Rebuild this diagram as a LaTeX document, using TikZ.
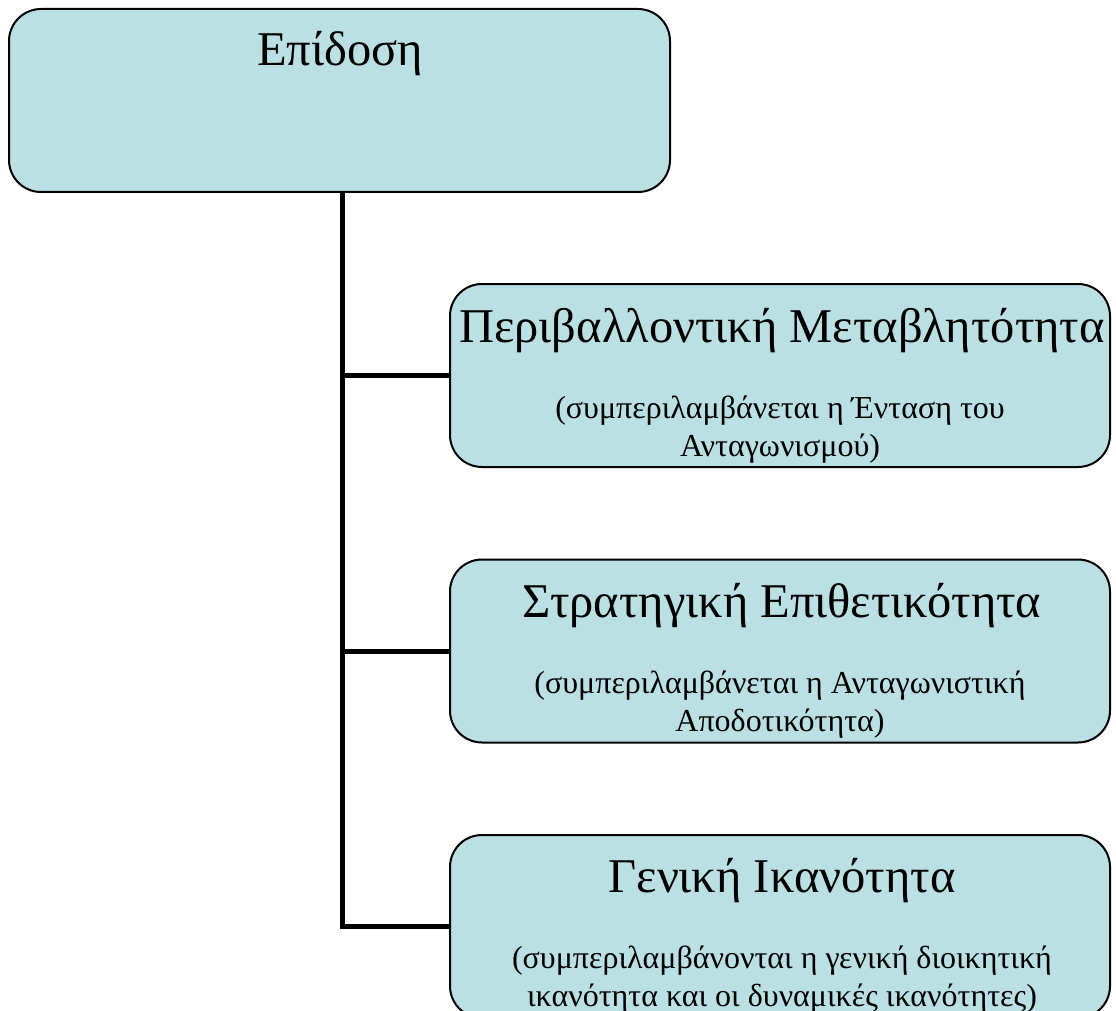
\documentclass[tikz,border=0pt]{standalone}
\usepackage{fontspec}
\setmainfont{Liberation Serif}
\definecolor{boxfill}{RGB}{187,224,227}
\begin{document}
\begin{tikzpicture}[x=1pt,y=-1pt,
  box/.style={draw=black, line width=2pt, fill=boxfill, rounded corners=32pt, minimum width=660pt, minimum height=183pt, inner sep=0pt},
  ttl/.style={anchor=base, inner sep=0pt, font=\fontsize{48.5}{58}\selectfont},
  sub/.style={anchor=base, inner sep=0pt, font=\fontsize{32}{39}\selectfont},
  conn/.style={draw=black, line width=5pt}]
\useasboundingbox (0,0) rectangle (1116,1011);
\clip (0,0) rectangle (1116,1011);
\node[box, minimum width=661pt] (top) at (339.5,100.5) {};
\node[box] (b2) at (780,375.5) {};
\node[box] (b3) at (780,651) {};
\node[box] (b4) at (780,926.5) {};
\coordinate (j) at (342,926.5);
\draw[conn] (top.south -| j) |- (b4.west);
\draw[conn] (b2.west -| j) -- (b2.west);
\draw[conn] (b3.west -| j) -- (b3.west);
\node[ttl] (t1) at (340,66) {Επίδοση};
\node[ttl] (t2) at (782,342) {Περιβαλλοντική Μεταβλητότητα};
\node[sub] (s2a) at (780,418) {(συμπεριλαμβάνεται η Ένταση του};
\node[sub] (s2b) at (780,456) {Ανταγωνισμού)};
\node[ttl] (t3) at (782,617) {Στρατηγική Επιθετικότητα};
\node[sub] (s3a) at (780,693) {(συμπεριλαμβάνεται η Ανταγωνιστική};
\node[sub] (s3b) at (780,731) {Αποδοτικότητα)};
\node[ttl] (t4) at (782,892) {Γενική Ικανότητα};
\node[sub] (s4a) at (782,968) {(συμπεριλαμβάνονται η γενική διοικητική};
\node[sub] (s4b) at (782,1006) {ικανότητα και οι δυναμικές ικανότητες)};
\end{tikzpicture}
\end{document}
